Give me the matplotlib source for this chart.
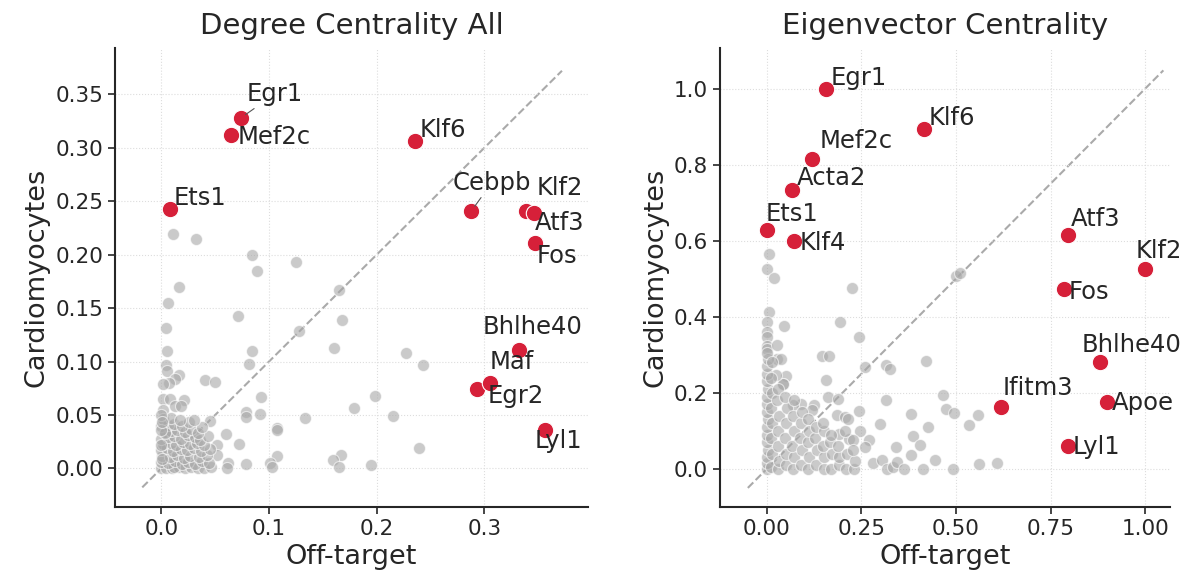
import matplotlib
matplotlib.use("Agg")
import matplotlib.pyplot as plt
from matplotlib.ticker import FormatStrFormatter

# ---- Degree centrality: highlighted genes ----
deg_genes = ["Egr1", "Mef2c", "Klf6", "Ets1", "Cebpb", "Klf2", "Atf3", "Fos",
             "Bhlhe40", "Maf", "Egr2", "Lyl1"]
deg_x = [0.074, 0.065, 0.236, 0.008, 0.288, 0.339, 0.346, 0.347, 0.332, 0.293, 0.305, 0.356]
deg_y = [0.328, 0.312, 0.306, 0.243, 0.241, 0.241, 0.239, 0.211, 0.111, 0.074, 0.080, 0.036]

# ---- Degree centrality: other genes ----
deg_gx = [0.011, 0.032, 0.084, 0.089, 0.125, 0.016, 0.165, 0.006, 0.071, 0.168, 0.004, 0.128,
          0.160, 0.005, 0.084, 0.227, 0.004, 0.081, 0.243, 0.005, 0.016, 0.013, 0.041, 0.050,
          0.007, 0.002, 0.198, 0.093, 0.002, 0.008, 0.021, 0.179, 0.002, 0.013, 0.018, 0.079,
          0.092, 0.215, 0.079, 0.133, 0.045, 0.107, 0.107, 0.060, 0.072, 0.052, 0.239, 0.052,
          0.167, 0.107, 0.159, 0.062, 0.079, 0.101, 0.195, 0.061, 0.103, 0.165,
          0.000, 0.004, 0.010, 0.016, 0.022, 0.028, 0.034, 0.040, 0.046, 0.012,
          0.000, 0.006, 0.013, 0.019, 0.025, 0.031, 0.038, 0.044,
          0.001, 0.008, 0.015, 0.021, 0.027, 0.035, 0.042,
          0.000, 0.005, 0.011, 0.018, 0.024, 0.030, 0.037, 0.045,
          0.002, 0.009, 0.014, 0.020, 0.027, 0.033, 0.040,
          0.000, 0.006, 0.012, 0.018, 0.025, 0.031, 0.036, 0.043,
          0.003, 0.009, 0.015, 0.022, 0.028, 0.034,
          0.000, 0.006, 0.012, 0.019, 0.026, 0.038,
          0.002, 0.009, 0.017, 0.030, 0.000, 0.003, 0.001, 0.000, 0.000, 0.001]
deg_gy = [0.219, 0.215, 0.200, 0.185, 0.193, 0.170, 0.167, 0.155, 0.143, 0.139, 0.131, 0.129,
          0.113, 0.110, 0.110, 0.108, 0.097, 0.098, 0.097, 0.091, 0.087, 0.084, 0.083, 0.081,
          0.080, 0.079, 0.068, 0.067, 0.065, 0.065, 0.064, 0.057, 0.055, 0.058, 0.058, 0.053,
          0.051, 0.049, 0.048, 0.047, 0.044, 0.038, 0.036, 0.032, 0.023, 0.022, 0.019, 0.013,
          0.013, 0.012, 0.008, 0.005, 0.004, 0.005, 0.003, 0.000, 0.001, 0.001,
          0.000, 0.000, 0.000, 0.001, 0.000, 0.001, 0.000, 0.000, 0.001, 0.001,
          0.006, 0.005, 0.007, 0.004, 0.006, 0.004, 0.007, 0.005,
          0.012, 0.011, 0.013, 0.010, 0.012, 0.011, 0.013,
          0.017, 0.019, 0.016, 0.018, 0.017, 0.019, 0.016, 0.018,
          0.023, 0.024, 0.022, 0.025, 0.023, 0.024, 0.022,
          0.028, 0.029, 0.030, 0.028, 0.031, 0.029, 0.027, 0.030,
          0.034, 0.035, 0.036, 0.034, 0.037, 0.033,
          0.040, 0.041, 0.042, 0.040, 0.043, 0.039,
          0.046, 0.047, 0.045, 0.045, 0.050, 0.033, 0.009, 0.022, 0.036, 0.043]

# ---- Eigenvector centrality: highlighted genes ----
eig_genes = ["Egr1", "Klf6", "Mef2c", "Acta2", "Ets1", "Klf4", "Atf3", "Klf2", "Fos",
             "Bhlhe40", "Ifitm3", "Apoe", "Lyl1"]
eig_x = [0.156, 0.415, 0.119, 0.066, 0.000, 0.071, 0.796, 1.000, 0.786, 0.881, 0.619, 0.899, 0.796]
eig_y = [1.000, 0.894, 0.815, 0.733, 0.628, 0.599, 0.615, 0.525, 0.472, 0.282, 0.164, 0.177, 0.061]

# ---- Eigenvector centrality: other genes ----
eig_gx = [0.005, 0.000, 0.018, 0.225, 0.005, 0.000, 0.045, 0.193, 0.243, 0.000, 0.000, 0.000,
          0.000, 0.026, 0.145, 0.164, 0.026, 0.037, 0.259, 0.315, 0.325, 0.420, 0.156, 0.050,
          0.042, 0.042, 0.024, 0.161, 0.188, 0.315, 0.124, 0.119, 0.090, 0.069, 0.243, 0.185,
          0.206, 0.214, 0.381, 0.246, 0.299, 0.190, 0.217, 0.228, 0.270, 0.259, 0.386, 0.426,
          0.405, 0.341, 0.381, 0.280, 0.304, 0.317, 0.333, 0.344, 0.362, 0.413, 0.444, 0.500,
          0.510, 0.466, 0.473, 0.495, 0.558, 0.534, 0.492, 0.561, 0.608,
          0.000, 0.001, 0.000, 0.002, 0.000, 0.001, 0.000, 0.002, 0.000, 0.001, 0.000, 0.002,
          0.000, 0.001, 0.000, 0.002, 0.001,
          0.012, 0.014, 0.011, 0.013, 0.012, 0.015, 0.011, 0.013,
          0.030, 0.032, 0.029, 0.031, 0.033, 0.028, 0.030,
          0.050, 0.052, 0.049, 0.051, 0.053, 0.048,
          0.070, 0.072, 0.068, 0.071, 0.069, 0.073,
          0.090, 0.092, 0.088, 0.091, 0.093,
          0.110, 0.112, 0.108, 0.111, 0.109,
          0.130, 0.132, 0.128, 0.131,
          0.150, 0.152, 0.148, 0.151, 0.149,
          0.170, 0.172, 0.168, 0.171,
          0.190, 0.192, 0.188,
          0.210, 0.212, 0.208,
          0.230, 0.232, 0.228]
eig_gy = [0.565, 0.525, 0.501, 0.475, 0.412, 0.385, 0.377, 0.385, 0.348, 0.361, 0.348, 0.322,
          0.314, 0.327, 0.298, 0.298, 0.288, 0.290, 0.269, 0.272, 0.264, 0.285, 0.235, 0.245,
          0.224, 0.222, 0.248, 0.190, 0.185, 0.182, 0.169, 0.156, 0.171, 0.169, 0.153, 0.142,
          0.137, 0.132, 0.145, 0.100, 0.119, 0.092, 0.079, 0.076, 0.076, 0.058, 0.087, 0.111,
          0.063, 0.058, 0.037, 0.016, 0.024, 0.000, 0.005, 0.018, 0.000, 0.000, 0.024, 0.508,
          0.515, 0.195, 0.158, 0.148, 0.142, 0.116, 0.000, 0.013, 0.016,
          0.000, 0.015, 0.030, 0.050, 0.070, 0.090, 0.110, 0.130, 0.150, 0.170, 0.190, 0.210,
          0.230, 0.250, 0.270, 0.290, 0.305,
          0.005, 0.040, 0.080, 0.120, 0.160, 0.200, 0.240, 0.280,
          0.000, 0.020, 0.060, 0.100, 0.140, 0.180, 0.210,
          0.010, 0.040, 0.080, 0.120, 0.160, 0.190,
          0.000, 0.030, 0.060, 0.100, 0.140, 0.180,
          0.010, 0.050, 0.080, 0.120, 0.150,
          0.000, 0.030, 0.070, 0.100, 0.130,
          0.010, 0.050, 0.080, 0.110,
          0.000, 0.030, 0.060, 0.100, 0.120,
          0.000, 0.040, 0.070, 0.090,
          0.010, 0.030, 0.060,
          0.000, 0.040, 0.100,
          0.000, 0.020, 0.050]

# label offsets in pixels (text left edge / vertical centre relative to the point)
deg_offsets = {"Egr1": (6, 24), "Mef2c": (6, -2), "Klf6": (4, 11), "Ets1": (4, 11),
               "Cebpb": (-19, 28), "Klf2": (10, 23), "Atf3": (1, -10), "Fos": (2, -13),
               "Bhlhe40": (-36, 23), "Maf": (13, 27), "Egr2": (-2, -13), "Lyl1": (-10, -11)}
eig_offsets = {"Egr1": (5, 11), "Klf6": (5, 11), "Mef2c": (8, 18), "Acta2": (5, 12),
               "Ets1": (-1, 16), "Klf4": (6, -2), "Atf3": (3, 16), "Klf2": (-10, 18),
               "Fos": (4, -3), "Bhlhe40": (-19, 17), "Ifitm3": (2, 19), "Apoe": (5, -1),
               "Lyl1": (5, -1)}
line_labels = {"Egr1", "Cebpb"}

RED = "#d62039"
GRAY = "#a8a8a8"
TXT = "#262626"

plt.rcParams["font.family"] = "DejaVu Sans"
plt.rcParams["text.color"] = TXT
plt.rcParams["axes.labelcolor"] = TXT
plt.rcParams["xtick.color"] = TXT
plt.rcParams["ytick.color"] = TXT

fig = plt.figure(figsize=(11.82, 5.82), dpi=100)
ax1 = fig.add_axes([0.0973, 0.129, 0.4, 0.788])
ax2 = fig.add_axes([0.609, 0.129, 0.381, 0.788])


def panel(ax, gx, gy, x, y, genes, offsets, title, lims, diag, xticks, yticks, xfmt, yfmt):
    ax.grid(True, linestyle=":", color="#dddddd", linewidth=0.8, zorder=0)
    ax.plot(diag, diag, linestyle="--", color="#aaaaaa", linewidth=1.5, zorder=1)
    ax.scatter(gx, gy, s=75, color=GRAY, alpha=0.6, edgecolors="white", linewidths=0.8, zorder=2)
    ax.scatter(x, y, s=140, color=RED, edgecolors="white", linewidths=0.8, zorder=3)
    for g, xi, yi in zip(genes, x, y):
        dx, dy = offsets[g]
        arrow = None
        if title.startswith("Degree") and g in line_labels:
            arrow = dict(arrowstyle="-", color="#555555", lw=0.8, shrinkA=0, shrinkB=4)
        ax.annotate(g, (xi, yi), xytext=(dx, dy), textcoords="offset pixels",
                    ha="left", va="center", fontsize=17.5, color=TXT, zorder=4,
                    arrowprops=arrow)
    ax.set_xlim(lims[0])
    ax.set_ylim(lims[1])
    ax.set_xticks(xticks)
    ax.set_yticks(yticks)
    ax.xaxis.set_major_formatter(FormatStrFormatter(xfmt))
    ax.yaxis.set_major_formatter(FormatStrFormatter(yfmt))
    ax.tick_params(labelsize=15.5, width=1.2, length=5)
    for s in ["top", "right"]:
        ax.spines[s].set_visible(False)
    for s in ["left", "bottom"]:
        ax.spines[s].set_linewidth(1.5)
        ax.spines[s].set_color(TXT)
    ax.set_title(title, fontsize=21, pad=10)
    ax.set_xlabel("Off-target", fontsize=19.5)
    ax.set_ylabel("Cardiomyocytes", fontsize=19.5)


panel(ax1, deg_gx, deg_gy, deg_x, deg_y, deg_genes, deg_offsets, "Degree Centrality All",
      ((-0.043, 0.396), (-0.036, 0.393)), [-0.0177, 0.372],
      [0.0, 0.1, 0.2, 0.3], [0.0, 0.05, 0.10, 0.15, 0.20, 0.25, 0.30, 0.35], "%.1f", "%.2f")
panel(ax2, eig_gx, eig_gy, eig_x, eig_y, eig_genes, eig_offsets, "Eigenvector Centrality",
      ((-0.124, 1.066), (-0.10, 1.106)), [-0.05, 1.048],
      [0.0, 0.25, 0.5, 0.75, 1.0], [0.0, 0.2, 0.4, 0.6, 0.8, 1.0], "%.2f", "%.1f")

fig.savefig("out.png", dpi=100)
